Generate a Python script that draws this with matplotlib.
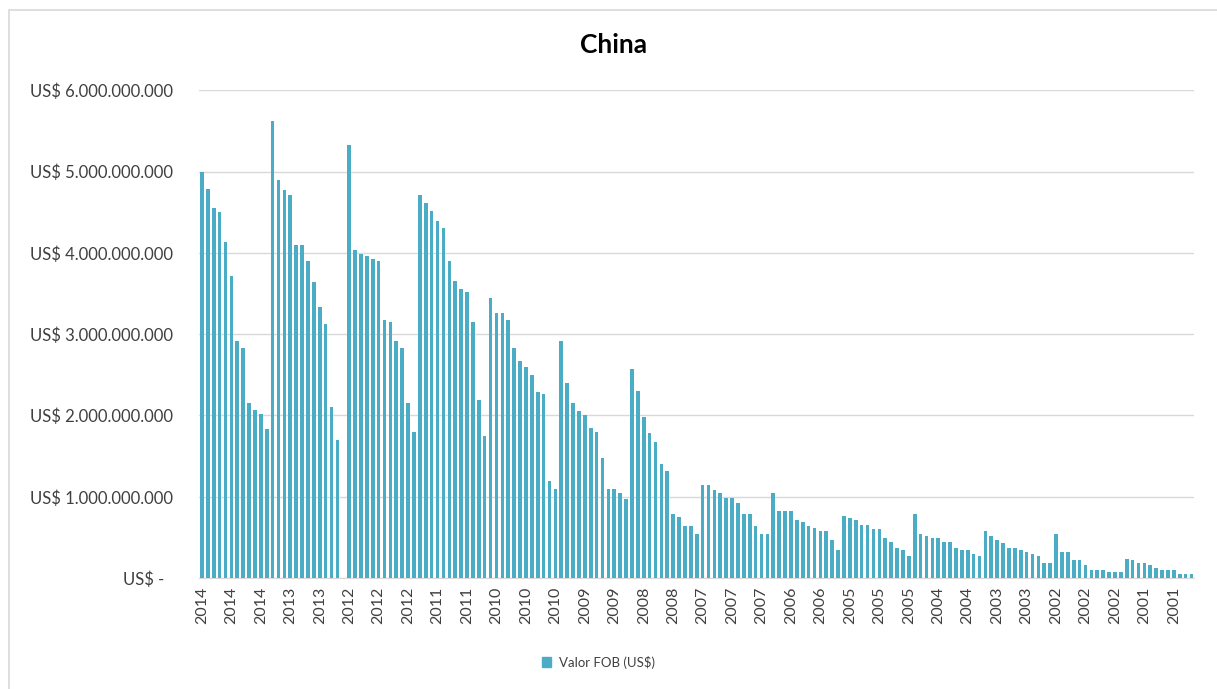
import matplotlib
matplotlib.use("Agg")
import matplotlib.pyplot as plt
from matplotlib.ticker import FuncFormatter
from matplotlib.patches import Rectangle, Patch
import numpy as np

# monthly FOB values, newest first, in billions of US$
valor_fob_bi = [
    5.00, 4.79, 4.55, 4.50, 4.13, 3.71, 2.91, 2.83, 2.15, 2.07, 2.02, 1.83,
    5.62, 4.90, 4.77, 4.71, 4.10, 4.10, 3.90, 3.64, 3.34, 3.12, 2.10, 1.70,
    0.0,
    5.33, 4.03, 3.99, 3.96, 3.93, 3.90, 3.18, 3.15, 2.91, 2.83, 2.15, 1.80,
    4.71, 4.61, 4.52, 4.39, 4.31, 3.90, 3.66, 3.55, 3.52, 3.15, 2.19, 1.75,
    3.45, 3.26, 3.26, 3.18, 2.83, 2.67, 2.59, 2.50, 2.29, 2.26, 1.19, 1.10,
    2.91, 2.40, 2.15, 2.05, 2.00, 1.85, 1.80, 1.48, 1.10, 1.10, 1.05, 0.97,
    2.57, 2.30, 1.98, 1.79, 1.67, 1.40, 1.32, 0.79, 0.75, 0.64, 0.64, 0.54,
    1.14, 1.14, 1.08, 1.05, 0.99, 0.99, 0.92, 0.79, 0.79, 0.64, 0.54, 0.54,
    1.05, 0.83, 0.83, 0.83, 0.72, 0.69, 0.64, 0.61, 0.575, 0.575, 0.47, 0.35,
    0.76, 0.74, 0.71, 0.65, 0.65, 0.60, 0.60, 0.49, 0.44, 0.375, 0.35, 0.27,
    0.79, 0.54, 0.52, 0.49, 0.49, 0.44, 0.44, 0.375, 0.35, 0.35, 0.30, 0.27,
    0.575, 0.52, 0.47, 0.43, 0.375, 0.375, 0.35, 0.325, 0.30, 0.27, 0.19, 0.19,
    0.54, 0.325, 0.325, 0.22, 0.22, 0.16, 0.10, 0.10, 0.10, 0.075, 0.075, 0.075,
    0.24, 0.22, 0.19, 0.19, 0.16, 0.13, 0.10, 0.10, 0.10, 0.05, 0.05, 0.05,
]

# one label every 5 categories
tick_labels = [
    "2014", "2014", "2014", "2013", "2013", "2012", "2012", "2012",
    "2011", "2011", "2010", "2010", "2010", "2009", "2009", "2008", "2008",
    "2007", "2007", "2007", "2006", "2006", "2005", "2005", "2005",
    "2004", "2004", "2003", "2003", "2002", "2002", "2002", "2001", "2001",
]

serie_nome = "Valor FOB (US$)"
titulo = "China"

plt.rcParams['font.family'] = ['Lato', 'DejaVu Sans']

valores = np.array(valor_fob_bi) * 1e9
x = np.arange(len(valores))

fig = plt.figure(figsize=(12.17, 6.89), dpi=100)
# chart frame: only top and left edges fall inside the image
fig.patches.append(Rectangle((0.0074, -0.05), 1.1, 1.0355, transform=fig.transFigure,
                             fill=False, edgecolor='#d9d9d9', linewidth=1.2))

ax = fig.add_axes([0.1635, 0.161, 0.818, 0.708])
ax.bar(x, valores, width=0.62, color='#4bacc6', zorder=3)

ax.set_xlim(-0.5, len(valores) - 0.5)
ax.set_ylim(0, 6e9)
ax.set_yticks(np.arange(0, 6.01e9, 1e9))


def fmt_us(v, pos):
    if v == 0:
        return "US$ -  "
    return "US$ " + f"{int(round(v)):,}".replace(",", ".")


ax.yaxis.set_major_formatter(FuncFormatter(fmt_us))
ax.set_xticks(x[::5])
ax.set_xticklabels(tick_labels, rotation=90)

ax.grid(axis='y', color='#d9d9d9', linewidth=1.0, zorder=0)
for s in ['top', 'right', 'left']:
    ax.spines[s].set_visible(False)
ax.spines['bottom'].set_color('#d9d9d9')
ax.tick_params(axis='both', length=0, colors='#404040')
ax.tick_params(axis='y', pad=19, labelsize=12)
ax.tick_params(axis='x', pad=6, labelsize=11.5)

fig.text(0.504, 0.935, titulo, ha='center', va='center', fontsize=19,
         fontweight='bold', color='#000000')

fig.legend(handles=[Patch(color='#4bacc6', label=serie_nome)], loc='center',
           bbox_to_anchor=(0.492, 0.039), frameon=False, fontsize=9.5,
           handlelength=0.7, handleheight=0.7, handletextpad=0.6, labelcolor='#404040')

fig.savefig("out.png", dpi=100)
